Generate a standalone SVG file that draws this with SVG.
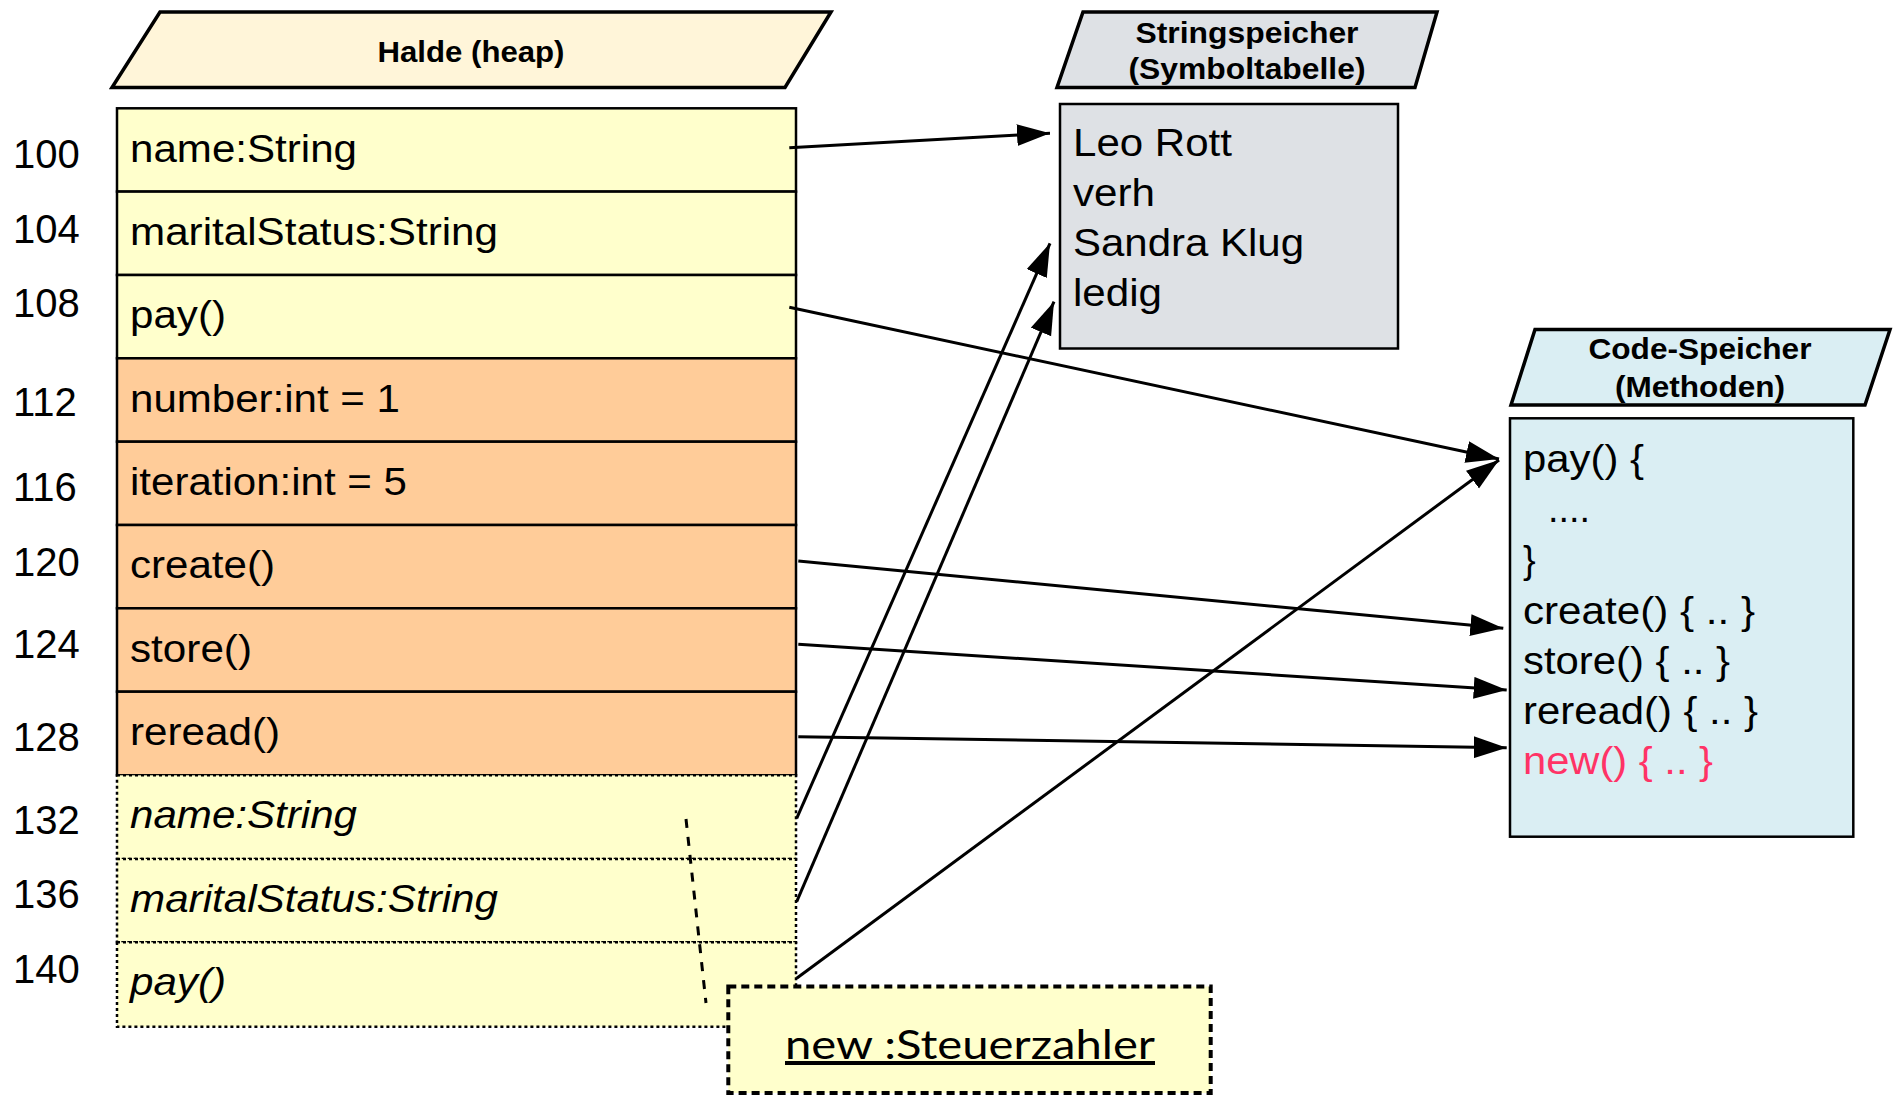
<svg xmlns="http://www.w3.org/2000/svg" width="1895" height="1095" viewBox="0 0 1895 1095">
<defs>
<marker id="arr" markerUnits="userSpaceOnUse" markerWidth="34" markerHeight="24" refX="33" refY="11" orient="auto">
<path d="M0,0 L33,11 L0,22 z" fill="#000"/>
</marker>
<style>
.hdr{font-family:"Liberation Sans",Arial,sans-serif;font-weight:bold;font-size:30px;fill:#000;text-anchor:middle}
.t{font-family:"Liberation Sans",Arial,sans-serif;font-size:38px;fill:#000}
.ti{font-family:"Liberation Sans",Arial,sans-serif;font-size:38px;font-style:italic;fill:#000}
.num{font-family:"Liberation Sans",Arial,sans-serif;font-size:40px;fill:#000}
.yel{fill:#FFFFCC;stroke:#000;stroke-width:2.5}
.ora{fill:#FFCC99;stroke:#000;stroke-width:2.5}
.dot{fill:#FFFFCC;stroke:#000;stroke-width:2.5;stroke-dasharray:3 3}
.conn{stroke:#000;stroke-width:3;fill:none;marker-end:url(#arr)}
</style>
</defs>
<rect width="1895" height="1095" fill="#fff"/>

<g id="halde-header">
<polygon points="160,12 831,12 785,87.5 112,87.5" fill="#FFF5D9" stroke="#000" stroke-width="3.5"/>
<text class="hdr" x="471" y="62" textLength="187" lengthAdjust="spacingAndGlyphs">Halde (heap)</text>
</g>

<g id="string-header">
<polygon points="1083,12 1437,12 1415,87.5 1057,87.5" fill="#DEE1E5" stroke="#000" stroke-width="3.5"/>
<text class="hdr" x="1247" y="43" textLength="223" lengthAdjust="spacingAndGlyphs">Stringspeicher</text>
<text class="hdr" x="1247" y="79" textLength="237" lengthAdjust="spacingAndGlyphs">(Symboltabelle)</text>
</g>

<g id="code-header">
<polygon points="1535,329.5 1890,329.5 1865,405 1511,405" fill="#DAEEF3" stroke="#000" stroke-width="3.5"/>
<text class="hdr" x="1700" y="359" textLength="223" lengthAdjust="spacingAndGlyphs">Code-Speicher</text>
<text class="hdr" x="1700" y="397" textLength="170" lengthAdjust="spacingAndGlyphs">(Methoden)</text>
</g>

<g id="heap">
<rect class="yel" x="117" y="108.3" width="679" height="83.3"/>
<rect class="yel" x="117" y="191.6" width="679" height="83.4"/>
<rect class="yel" x="117" y="275" width="679" height="83.3"/>
<rect class="ora" x="117" y="358.3" width="679" height="83.4"/>
<rect class="ora" x="117" y="441.7" width="679" height="83.3"/>
<rect class="ora" x="117" y="525" width="679" height="83.3"/>
<rect class="ora" x="117" y="608.3" width="679" height="83.4"/>
<rect class="ora" x="117" y="691.7" width="679" height="83.6"/>
<rect class="dot" x="117" y="775.3" width="679" height="83.7"/>
<rect class="dot" x="117" y="859" width="679" height="83.3"/>
<rect class="dot" x="117" y="942.3" width="679" height="84.4"/>
<text class="t" x="130" y="161.7" textLength="227" lengthAdjust="spacingAndGlyphs">name:String</text>
<text class="t" x="130" y="245" textLength="368" lengthAdjust="spacingAndGlyphs">maritalStatus:String</text>
<text class="t" x="130" y="328.3" textLength="96" lengthAdjust="spacingAndGlyphs">pay()</text>
<text class="t" x="130" y="411.7" textLength="270" lengthAdjust="spacingAndGlyphs">number:int = 1</text>
<text class="t" x="130" y="495" textLength="277" lengthAdjust="spacingAndGlyphs">iteration:int = 5</text>
<text class="t" x="130" y="578.3" textLength="145" lengthAdjust="spacingAndGlyphs">create()</text>
<text class="t" x="130" y="661.7" textLength="122" lengthAdjust="spacingAndGlyphs">store()</text>
<text class="t" x="130" y="745" textLength="150" lengthAdjust="spacingAndGlyphs">reread()</text>
<text class="ti" x="130" y="828.3" textLength="227" lengthAdjust="spacingAndGlyphs">name:String</text>
<text class="ti" x="130" y="911.7" textLength="368" lengthAdjust="spacingAndGlyphs">maritalStatus:String</text>
<text class="ti" x="130" y="995" textLength="96" lengthAdjust="spacingAndGlyphs">pay()</text>
</g>

<g id="addresses">
<text class="num" x="13" y="167.5">100</text>
<text class="num" x="13" y="243">104</text>
<text class="num" x="13" y="317">108</text>
<text class="num" x="13" y="416">112</text>
<text class="num" x="13" y="500.7">116</text>
<text class="num" x="13" y="576">120</text>
<text class="num" x="13" y="658.3">124</text>
<text class="num" x="13" y="750.7">128</text>
<text class="num" x="13" y="834">132</text>
<text class="num" x="13" y="908.3">136</text>
<text class="num" x="13" y="983.3">140</text>
</g>

<g id="stringspeicher">
<rect x="1060" y="104" width="338" height="244.5" fill="#DEE1E5" stroke="#000" stroke-width="2.5"/>
<text class="t" x="1073" y="156" textLength="159" lengthAdjust="spacingAndGlyphs">Leo Rott</text>
<text class="t" x="1073" y="206" textLength="82" lengthAdjust="spacingAndGlyphs">verh</text>
<text class="t" x="1073" y="256" textLength="231" lengthAdjust="spacingAndGlyphs">Sandra Klug</text>
<text class="t" x="1073" y="306" textLength="89" lengthAdjust="spacingAndGlyphs">ledig</text>
</g>

<g id="codespeicher">
<rect x="1510" y="418.3" width="343.3" height="418.4" fill="#DAEEF3" stroke="#000" stroke-width="2.5"/>
<text class="t" x="1523" y="472" textLength="121" lengthAdjust="spacingAndGlyphs">pay() {</text>
<text class="t" x="1548" y="522" textLength="42" lengthAdjust="spacingAndGlyphs">....</text>
<text class="t" x="1523" y="573">}</text>
<text class="t" x="1523" y="624" textLength="232" lengthAdjust="spacingAndGlyphs">create() { .. }</text>
<text class="t" x="1523" y="674" textLength="207" lengthAdjust="spacingAndGlyphs">store() { .. }</text>
<text class="t" x="1523" y="724" textLength="235" lengthAdjust="spacingAndGlyphs">reread() { .. }</text>
<text class="t" x="1523" y="774" textLength="190" lengthAdjust="spacingAndGlyphs" style="fill:#FF3366">new() { .. }</text>
</g>

<g id="note-link">
<line x1="686" y1="819" x2="706" y2="1003" stroke="#000" stroke-width="3" stroke-dasharray="9 9"/>
</g>

<g id="new-steuerzahler">
<rect x="728.3" y="986.5" width="482.4" height="106.5" fill="#FFFFCC" stroke="#000" stroke-width="4" stroke-dasharray="8 5"/>
<text x="970" y="1059" text-anchor="middle" font-family="Lato,'Open Sans',sans-serif" font-size="40" text-decoration="underline" textLength="370" lengthAdjust="spacingAndGlyphs" fill="#000">new :Steuerzahler</text>
</g>

<g id="connectors">
<line class="conn" x1="789.3" y1="147.7" x2="1050" y2="133.3"/>
<line class="conn" x1="789.3" y1="307.3" x2="1499" y2="459"/>
<line class="conn" x1="798.3" y1="561" x2="1503.3" y2="628.3"/>
<line class="conn" x1="798.3" y1="644.3" x2="1506.7" y2="690"/>
<line class="conn" x1="798.3" y1="736.7" x2="1506.7" y2="747.7"/>
<line class="conn" x1="796.7" y1="818.3" x2="1050" y2="243.3"/>
<line class="conn" x1="796.7" y1="901.7" x2="1054" y2="301.7"/>
<line class="conn" x1="796.7" y1="978.3" x2="1499" y2="460"/>
</g>
</svg>
